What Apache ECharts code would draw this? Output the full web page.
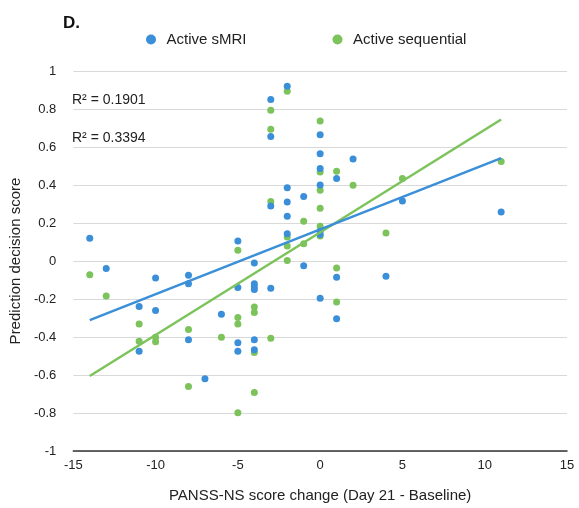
<!DOCTYPE html>
<html>
<head>
<meta charset="utf-8">
<script src="https://cdn.jsdelivr.net/npm/echarts@6/dist/echarts.min.js"></script>
<style>
  html, body { margin: 0; padding: 0; background: #fff; }
  #main-echart { width: 579px; height: 508px; }
</style>
</head>
<body>
<div id="main-echart"></div>
<script>
// PANSS-NS change vs prediction score
const sMRI_pts = [
  [-14, 0.12], [-13, -0.04], [-11, -0.24], [-11, -0.475], [-10, -0.09], [-10, -0.26],
  [-8, -0.075], [-8, -0.12], [-8, -0.415], [-7, -0.62], [-6, -0.28],
  [-5, 0.105], [-5, -0.14], [-5, -0.43], [-5, -0.475],
  [-4, -0.01], [-4, -0.12], [-4, -0.135], [-4, -0.15], [-4, -0.415], [-4, -0.467],
  [-3, 0.85], [-3, 0.655], [-3, 0.29], [-3, -0.143],
  [-2, 0.92], [-2, 0.385], [-2, 0.31], [-2, 0.235], [-2, 0.143],
  [-1, 0.34], [-1, -0.025],
  [0, 0.665], [0, 0.565], [0, 0.487], [0, 0.40], [0, 0.157], [0, 0.139], [0, -0.196],
  [1, 0.434], [1, -0.086], [1, -0.304], [2, 0.537], [4, -0.08], [5, 0.316], [11, 0.258]
];
const seq_pts = [
  [-14, -0.072], [-13, -0.184], [-11, -0.331], [-11, -0.423], [-10, -0.401], [-10, -0.425],
  [-8, -0.36], [-8, -0.661], [-6, -0.401],
  [-5, 0.056], [-5, -0.297], [-5, -0.331], [-5, -0.799],
  [-4, -0.242], [-4, -0.271], [-4, -0.482], [-4, -0.692],
  [-3, 0.794], [-3, 0.694], [-3, 0.313], [-3, -0.406],
  [-2, 0.894], [-2, 0.126], [-2, 0.079], [-2, 0.003],
  [-1, 0.209], [-1, 0.091],
  [0, 0.737], [0, 0.468], [0, 0.373], [0, 0.277], [0, 0.183], [0, 0.131],
  [1, 0.472], [1, -0.037], [1, -0.216], [2, 0.399], [4, 0.148], [5, 0.434], [11, 0.524]
];
// linear fit endpoints
const sMRI_fit = [[-14, -0.311], [11, 0.541]];
const seq_fit = [[-14, -0.605], [11, 0.745]];
const r2_labels = ['R\u00b2 = 0.1901', 'R\u00b2 = 0.3394'];
const series_names = ['Active sMRI', 'Active sequential'];

const BLUE = '#3a8fd8';
const GREEN = '#7cc35b';
const FONT = "'Liberation Sans', Arial, sans-serif";

let myChart = echarts.init(document.getElementById('main-echart'));

let option = {
  animation: false,
  textStyle: { fontFamily: FONT },
  grid: { left: 72, right: 12, top: 71, bottom: 52 },
  legend: {
    data: [series_names[0], series_names[1]],
    icon: 'circle',
    left: 141,
    top: 27,
    itemWidth: 21,
    itemHeight: 10,
    itemGap: 86,
    textStyle: { fontSize: 15, color: '#222', fontFamily: FONT }
  },
  graphic: [
    { type: 'text', left: 63, top: 15,
      style: { text: 'D.', font: "bold 17px 'Liberation Sans', Arial", fill: '#111' } },
    { type: 'text', left: 72, top: 93,
      style: { text: r2_labels[0], font: "14px 'Liberation Sans', Arial", fill: '#222' } },
    { type: 'text', left: 72, top: 131,
      style: { text: r2_labels[1], font: "14px 'Liberation Sans', Arial", fill: '#222' } }
  ],
  xAxis: {
    type: 'value',
    min: -15, max: 15, interval: 5,
    name: 'PANSS-NS score change (Day 21 - Baseline)',
    nameLocation: 'middle',
    nameGap: 37,
    nameTextStyle: { fontSize: 15, color: '#222' },
    axisLine: { onZero: false, lineStyle: { color: '#333', width: 1.5 } },
    axisTick: { show: false },
    axisLabel: { fontSize: 13, color: '#222', margin: 8 },
    splitLine: { show: false }
  },
  yAxis: {
    type: 'value',
    min: -1, max: 1, interval: 0.2,
    name: 'Prediction decision score',
    nameLocation: 'middle',
    nameGap: 43,
    nameTextStyle: { fontSize: 15, color: '#222' },
    axisLine: { show: false },
    axisTick: { show: false },
    axisLabel: { fontSize: 13, color: '#222', margin: 17 },
    splitLine: { lineStyle: { color: '#d9d9d9', width: 1 } }
  },
  series: [
    {
      name: series_names[1], type: 'scatter', data: seq_pts,
      symbolSize: 7, itemStyle: { color: GREEN, opacity: 1 }, z: 2
    },
    {
      name: series_names[0], type: 'scatter', data: sMRI_pts,
      symbolSize: 7, itemStyle: { color: BLUE, opacity: 1 }, z: 3
    },
    {
      name: 'fit_seq', type: 'line', data: seq_fit, symbol: 'none',
      lineStyle: { color: GREEN, width: 2.5 }, z: 4
    },
    {
      name: 'fit_sMRI', type: 'line', data: sMRI_fit, symbol: 'none',
      lineStyle: { color: BLUE, width: 2.5 }, z: 5
    }
  ]
};

myChart.setOption(option);
</script>
</body>
</html>
